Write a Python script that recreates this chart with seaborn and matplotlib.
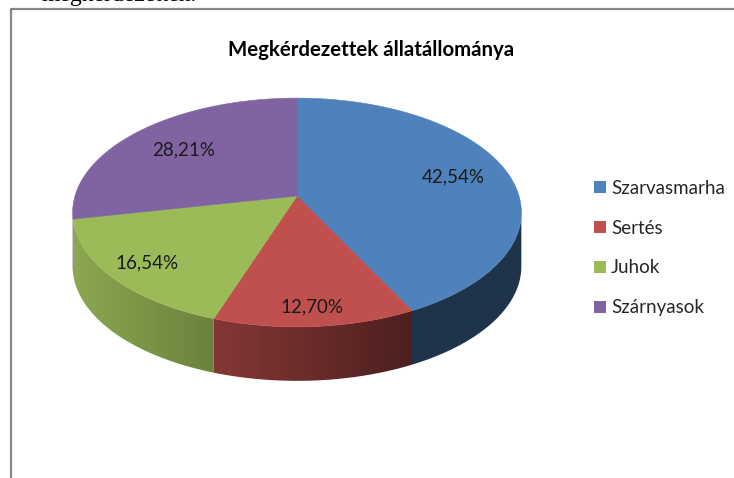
"""3D-style pie chart: Megkérdezettek állatállománya."""

import matplotlib
import numpy as np

matplotlib.use("Agg")

import matplotlib.pyplot as plt  # noqa: E402
import seaborn as sns  # noqa: E402
from matplotlib.patches import Patch, Polygon  # noqa: E402

# data
categories = ["Szarvasmarha", "Sertés", "Juhok", "Szárnyasok"]
shares = [42.54, 12.70, 16.54, 28.21]
pct_labels = ["42,54%", "12,70%", "16,54%", "28,21%"]
title = "Megkérdezettek állatállománya"
page_text = "megkérdezetten."

# look
colors = sns.color_palette(["#4F81BD", "#C0504D", "#9BBB59", "#8064A2"])
label_r = [0.74, 0.87, 0.83, 0.70]

# projected disc geometry (pixels)
CX, CY = 297, 196
RX, RY = 222, 112
PERSP = 0.144
DEPTH = 54


def project(phi, f=1.0):
    """Clockwise angle from 12 o'clock -> screen px, with mild perspective."""
    u = np.sin(phi) * f
    v = np.cos(phi) * f
    s = 1.0 / (1.0 + PERSP * v)
    return CX + RX * u * s, CY - RY * v * s


def shade(x):
    return np.clip(0.9 - 0.5 * (x - 73) / 337, 0.4, 0.9)


sns.set_theme(style="white")
plt.rcParams["font.family"] = ["Lato", "DejaVu Sans"]

fig = plt.figure(figsize=(7.34, 4.78), dpi=100)
ax = fig.add_axes([0, 0, 1, 1])
ax.set_xlim(0, 734)
ax.set_ylim(478, 0)
ax.axis("off")

fracs = np.array(shares) / np.sum(shares)
bounds = np.concatenate([[0], np.cumsum(fracs)]) * 2 * np.pi

# side walls: front-facing arc of each slice, filled with a horizontal shade gradient
xs_grad = np.arange(0, 734)
for i, col in enumerate(colors):
    phis = np.linspace(bounds[i], bounds[i + 1], 300)
    phis = phis[np.cos(phis) < -PERSP]
    if len(phis) < 2:
        continue
    tx, ty = project(phis)
    pts = list(zip(tx, ty)) + list(zip(tx[::-1], ty[::-1] + DEPTH))
    wall = Polygon(pts, closed=True, facecolor="none", edgecolor="none")
    ax.add_patch(wall)
    grad = np.array(col)[None, None, :] * shade(xs_grad)[None, :, None]
    img = ax.imshow(grad, extent=(0, 734, 478, 0), aspect="auto", interpolation="bilinear",
                    zorder=1)
    img.set_clip_path(wall)

# top faces
for i, col in enumerate(colors):
    phis = np.linspace(bounds[i], bounds[i + 1], 200)
    xs, ys = project(phis)
    pts = [(CX, CY)] + list(zip(xs, ys))
    ax.add_patch(Polygon(pts, closed=True, facecolor=col, edgecolor=col, lw=0.4, zorder=2))

ax.set_xlim(0, 734)
ax.set_ylim(478, 0)

# percentage labels
for i, lab in enumerate(pct_labels):
    mid = (bounds[i] + bounds[i + 1]) / 2
    lx, ly = project(mid, label_r[i])
    ax.text(lx, ly, lab, ha="center", va="center", fontsize=13.5, color="#1a1a1a", zorder=3)

ax.text(371, 50, title, ha="center", va="center", fontsize=14.7, fontweight="bold",
        color="black")

handles = [Patch(facecolor=c, edgecolor="none") for c in colors]
ax.legend(handles, categories, loc="center left", bbox_to_anchor=(594 / 734, 1 - 248 / 478),
          frameon=False, fontsize=13.5, handlelength=0.62, handleheight=0.62,
          handletextpad=0.3, labelspacing=1.22, borderaxespad=0, borderpad=0)

# frame of the embedded chart and the clipped line of document text above it
ax.plot([11, 11, 734], [478, 9, 9], color="#868686", lw=1.6, solid_capstyle="butt")
ax.text(197, 1, page_text, ha="right", va="baseline", fontsize=17,
        family="Liberation Serif", color="black")

fig.savefig("out.png", dpi=100, facecolor="white")
